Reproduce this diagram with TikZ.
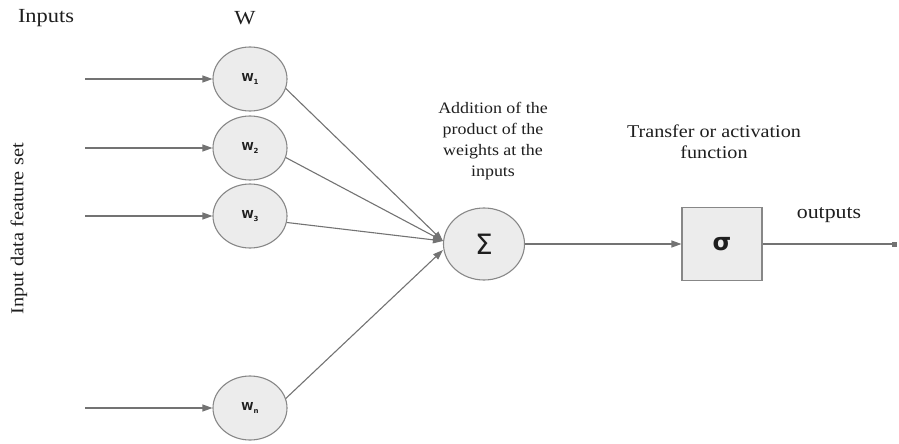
\documentclass[tikz,border=0pt]{standalone}
\usepackage{fontspec}
\setmainfont{Liberation Serif}[FakeStretch=1.12]
\newfontfamily\symfont{DejaVu Sans}
\usetikzlibrary{shapes.geometric,arrows.meta}
\definecolor{linegray}{RGB}{115,115,115}
\definecolor{edgegray}{RGB}{135,135,135}
\definecolor{fillgray}{RGB}{236,236,236}
\definecolor{textgray}{RGB}{30,30,30}
\tikzset{
  weight/.style={ellipse, draw=edgegray, fill=fillgray, line width=1.1pt,
    minimum width=74pt, minimum height=64pt, inner sep=0pt,
    font=\symfont\bfseries\fontsize{11}{12}\selectfont, text=textgray},
  sumnode/.style={ellipse, draw=edgegray, fill=fillgray, line width=1.1pt,
    minimum width=81pt, minimum height=72pt, inner sep=0pt,
    font=\symfont\fontsize{28}{30}\selectfont, text=textgray},
  actbox/.style={rectangle, draw=edgegray, fill=fillgray, line width=1.1pt,
    minimum width=80pt, minimum height=73pt, inner sep=0pt,
    font=\symfont\bfseries\fontsize{24}{26}\selectfont, text=textgray},
  wire/.style={draw=linegray, line width=1.1pt,
    -{Triangle[length=10pt,width=7pt]}},
  label/.style={font=\fontsize{20}{22}\selectfont, inner sep=0pt, text=textgray},
  note/.style={font=\fontsize{16}{21}\selectfont, align=center, inner sep=0pt, text=textgray},
}
\newcommand{\wsub}[1]{W\raisebox{-0.45ex}{\fontsize{7}{8}\selectfont #1}}
\begin{document}
\begin{tikzpicture}[x=1pt,y=-1pt]
  \useasboundingbox (0,0) rectangle (899,444);

  % headings
  \node[label] (inputs) at (46,18) {Inputs};
  \node[label] (wtitle) at (245,18) {W};
  \node[label, font=\fontsize{18.2}{20}\selectfont, rotate=90] (featureset) at (19,229) {Input data feature set};

  % weight nodes
  \node[weight] (w1) at (250,79)  {\wsub{1}};
  \node[weight] (w2) at (250,148) {\wsub{2}};
  \node[weight] (w3) at (250,216) {\wsub{3}};
  \node[weight] (wn) at (250,408) {\wsub{n}};

  % input arrow tails
  \coordinate (x1) at (85,79);
  \coordinate (x2) at (85,148);
  \coordinate (x3) at (85,216);
  \coordinate (xn) at (85,408);

  % summation and activation
  \node[sumnode] (sum) at (484,244) {Σ};
  \node[actbox] (act) at (722,244) {σ};
  \coordinate (out) at (897,244);

  % notes
  \node[note] (sumnote) at (493,141) {Addition of the\\product of the\\weights at the\\inputs};
  \node[note, font=\fontsize{18}{21}\selectfont] (actnote) at (714,142) {Transfer or activation\\function};
  \node[label, font=\fontsize{19.5}{20}\selectfont] (outputs) at (829,215) {outputs};

  % connectors
  \draw[wire] (x1) -- (w1);
  \draw[wire] (x2) -- (w2);
  \draw[wire] (x3) -- (w3);
  \draw[wire] (xn) -- (wn);
  \draw[wire] (w1.-15) -- ([yshift=3pt]sum.west);
  \draw[wire] (w2.-15) -- ([yshift=3pt]sum.west);
  \draw[wire] (w3.-10) -- ([yshift=3pt]sum.west);
  \draw[wire] (wn.15) -- ([yshift=-6pt]sum.west);
  \draw[wire] (sum) -- (act);
  \draw[draw=linegray, line width=1.1pt, -{Square[length=5pt,width=5pt]}] (act) -- (out);
\end{tikzpicture}
\end{document}
